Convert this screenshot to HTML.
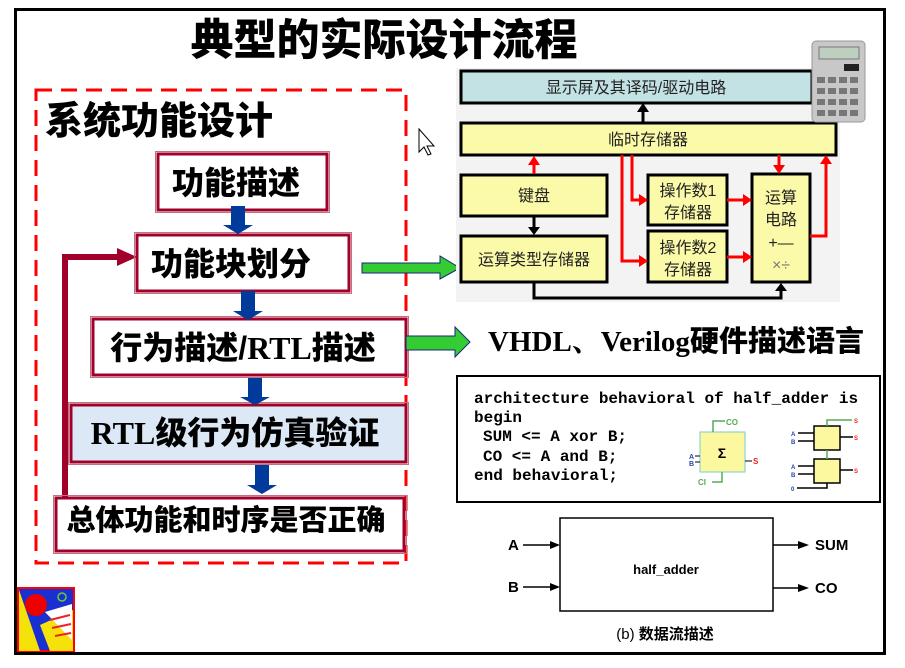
<!DOCTYPE html>
<html><head><meta charset="utf-8"><style>
html,body{margin:0;padding:0;background:#fff;}
svg{display:block}
</style></head><body>
<svg width="905" height="668" viewBox="0 0 905 668" xmlns="http://www.w3.org/2000/svg" font-family="Liberation Sans, Noto Sans CJK SC, sans-serif">
<rect x="15.5" y="9.5" width="869" height="644" fill="#fff" stroke="#000" stroke-width="3"/>
<text x="384" y="55" text-anchor="middle" font-size="43" font-weight="900" fill="#000">典型的实际设计流程</text>

<!-- dashed box -->
<rect x="36" y="90" width="370" height="473" fill="none" stroke="#f00" stroke-width="3" stroke-dasharray="16,9"/>
<text x="45" y="134" font-size="38" font-weight="900">系统功能设计</text>

<!-- feedback line -->
<polyline points="65,497 65,257 120,257" fill="none" stroke="#a0002a" stroke-width="6"/>
<polygon points="117,248 137,257 117,266" fill="#a0002a"/>

<g fill="#fff" stroke="#a0002a" stroke-width="3">
<rect x="158" y="154" width="169" height="56"/>
<rect x="137" y="235" width="212" height="56"/>
<rect x="93" y="319" width="313" height="56"/>
<rect x="71" y="405" width="335" height="57" fill="#dce8f5"/>
<rect x="56" y="498" width="348" height="53"/>
</g>
<g fill="none" stroke="#c47080" stroke-width="1">
<rect x="155.5" y="151.5" width="174" height="61"/>
<rect x="134.5" y="232.5" width="217" height="61"/>
<rect x="90.5" y="316.5" width="318" height="61"/>
<rect x="68.5" y="402.5" width="340" height="62"/>
<rect x="53.5" y="495.5" width="353" height="58"/>
</g>
<g font-size="32" font-weight="900" fill="#000">
<text x="236" y="194" text-anchor="middle">功能描述</text>
<text x="231" y="275" text-anchor="middle">功能块划分</text>
<text x="243" y="359" text-anchor="middle">行为描述/<tspan font-family="Liberation Serif, serif">RTL</tspan>描述</text>
<text x="235" y="444" text-anchor="middle"><tspan font-family="Liberation Serif, serif">RTL</tspan>级行为仿真验证</text>
<text x="226" y="530" text-anchor="middle" font-size="29">总体功能和时序是否正确</text>
</g>
<!-- blue arrows -->
<g fill="#003a9a">
<polygon points="231,206 245,206 245,225 253,225 238,234 223,225 231,225"/>
<polygon points="241,291 255,291 255,311 263,311 248,320 233,311 241,311"/>
<polygon points="248,378 262,378 262,397 270,397 255,405 240,397 248,397"/>
<polygon points="255,465 269,465 269,485 277,485 262,494 247,485 255,485"/>
</g>
<!-- green arrows -->
<g fill="#33cc33" stroke="#1a237e" stroke-width="1">
<polygon points="362,263 440,263 440,256 460,268 440,279 440,273 362,273"/>
<polygon points="406,336 455,336 455,327 470,342 455,357 455,350 406,350"/>
</g>

<!-- cursor -->
<path d="M419,129 L419,152 L424,147 L428,155 L431,154 L427,146 L434,146 Z" fill="#fff" stroke="#000" stroke-width="1"/>

<!-- right top diagram -->
<rect x="456" y="68" width="384" height="234" fill="#f3f3f3"/>
<g stroke="#000" stroke-width="3">
<rect x="461" y="71" width="351" height="32" fill="#c2e2e4"/>
<rect x="461" y="123" width="375" height="32" fill="#fbfaa8"/>
<rect x="461" y="175" width="146" height="41" fill="#fbfaa8"/>
<rect x="461" y="236" width="146" height="46" fill="#fbfaa8"/>
<rect x="648" y="175" width="79" height="50" fill="#fbfaa8"/>
<rect x="648" y="231" width="79" height="51" fill="#fbfaa8"/>
<rect x="752" y="174" width="58" height="108" fill="#fbfaa8"/>
</g>
<g font-size="16" fill="#222" text-anchor="middle">
<text x="636" y="93">显示屏及其译码/驱动电路</text>
<text x="648" y="145">临时存储器</text>
<text x="534" y="201">键盘</text>
<text x="534" y="265">运算类型存储器</text>
<text x="688" y="196">操作数1</text>
<text x="688" y="218">存储器</text>
<text x="688" y="253">操作数2</text>
<text x="688" y="275">存储器</text>
<text x="781" y="203">运算</text>
<text x="781" y="225">电路</text>
<text x="781" y="248">+—</text>
<text x="781" y="270" fill="#777">×÷</text>
</g>
<!-- black arrows -->
<g stroke="#000" stroke-width="3" fill="none">
<line x1="643" y1="122" x2="643" y2="110"/>
<line x1="534" y1="217" x2="534" y2="228"/>
<polyline points="534,282 534,298 781,298 781,290"/>
</g>
<g fill="#000">
<polygon points="637,112 643,103 649,112"/>
<polygon points="528,227 534,235 540,227"/>
<polygon points="775,291 781,283 787,291"/>
</g>
<!-- red arrows -->
<g stroke="#f00" stroke-width="3" fill="none">
<line x1="534" y1="174" x2="534" y2="163"/>
<polyline points="632,155 632,200 640,200"/>
<polyline points="622,155 622,261 640,261"/>
<line x1="727" y1="200" x2="744" y2="200"/>
<line x1="727" y1="257" x2="744" y2="257"/>
<line x1="779" y1="155" x2="779" y2="166"/>
<polyline points="810,236 826,236 826,162"/>
</g>
<g fill="#f00">
<polygon points="528,165 534,156 540,165"/>
<polygon points="639,194 648,200 639,206"/>
<polygon points="639,255 648,261 639,267"/>
<polygon points="743,194 752,200 743,206"/>
<polygon points="743,251 752,257 743,263"/>
<polygon points="773,165 779,174 785,165"/>
<polygon points="820,164 826,155 832,164"/>
</g>
<!-- calculator -->
<rect x="812" y="41" width="53" height="81" rx="4" fill="#c8c8c8" stroke="#999"/>
<rect x="819" y="47" width="40" height="12" fill="#bfcfbf" stroke="#777"/>
<rect x="844" y="64" width="15" height="7" fill="#222"/>
<g fill="#777">
<rect x="817" y="77" width="8" height="6"/><rect x="828" y="77" width="8" height="6"/><rect x="839" y="77" width="8" height="6"/><rect x="850" y="77" width="8" height="6"/>
<rect x="817" y="88" width="8" height="6"/><rect x="828" y="88" width="8" height="6"/><rect x="839" y="88" width="8" height="6"/><rect x="850" y="88" width="8" height="6"/>
<rect x="817" y="99" width="8" height="6"/><rect x="828" y="99" width="8" height="6"/><rect x="839" y="99" width="8" height="6"/><rect x="850" y="99" width="8" height="6"/>
<rect x="817" y="110" width="8" height="6"/><rect x="828" y="110" width="8" height="6"/><rect x="839" y="110" width="8" height="6"/><rect x="850" y="110" width="8" height="6"/>
</g>

<!-- VHDL text -->
<text x="488" y="351" font-size="29" font-weight="bold" font-family="Liberation Serif, Noto Serif CJK SC, serif">VHDL、Verilog<tspan font-family="Liberation Sans, Noto Sans CJK SC, sans-serif" font-weight="900">硬件描述语言</tspan></text>

<!-- code box -->
<rect x="457" y="376" width="423" height="126" fill="#fff" stroke="#000" stroke-width="2"/>
<g font-family="Liberation Mono, monospace" font-weight="bold" font-size="16" fill="#000">
<text x="474" y="403">architecture behavioral of half_adder is</text>
<text x="474" y="422">begin</text>
<text x="483" y="441">SUM &lt;= A xor B;</text>
<text x="483" y="461">CO &lt;= A and B;</text>
<text x="474" y="480">end behavioral;</text>
</g>
<!-- sigma adder -->
<rect x="700" y="432" width="45" height="40" fill="#fbf8a0" stroke="#7cc"/>
<text x="722" y="458" font-size="14" font-weight="bold" text-anchor="middle">Σ</text>
<polyline points="713,432 713,421 725,421" fill="none" stroke="#5a5" stroke-width="1.5"/>
<text x="726" y="425" font-size="8" fill="#5a5" font-weight="bold">CO</text>
<polyline points="722,472 722,482 712,482" fill="none" stroke="#5a5" stroke-width="1.5"/>
<text x="698" y="485" font-size="8" fill="#5a5" font-weight="bold">CI</text>
<line x1="695" y1="456" x2="700" y2="456" stroke="#000"/>
<line x1="695" y1="462" x2="700" y2="462" stroke="#000"/>
<text x="689" y="459" font-size="7" fill="#24a" font-weight="bold">A</text>
<text x="689" y="466" font-size="7" fill="#24a" font-weight="bold">B</text>
<line x1="745" y1="461" x2="752" y2="461" stroke="#000"/>
<text x="753" y="464" font-size="8" fill="#e22" font-weight="bold">S</text>
<!-- chained adders -->
<g stroke="#000" stroke-width="1.5">
<rect x="814" y="426" width="26" height="24" fill="#fbf8a0"/>
<rect x="814" y="459" width="26" height="24" fill="#fbf8a0"/>
<line x1="798" y1="433" x2="814" y2="433"/><line x1="798" y1="441" x2="814" y2="441"/>
<line x1="798" y1="466" x2="814" y2="466"/><line x1="798" y1="474" x2="814" y2="474"/>
<line x1="840" y1="437" x2="853" y2="437"/><line x1="840" y1="470" x2="853" y2="470"/>
<polyline points="827,483 827,488 797,488" fill="none"/>
</g>
<polyline points="827,426 827,420 852,420" fill="none" stroke="#5a5" stroke-width="1.5"/>
<line x1="827" y1="450" x2="827" y2="459" stroke="#5a5" stroke-width="1.5"/>
<g font-size="6" font-weight="bold">
<text x="791" y="436" fill="#24a">A</text><text x="791" y="444" fill="#24a">B</text>
<text x="791" y="469" fill="#24a">A</text><text x="791" y="477" fill="#24a">B</text>
<text x="791" y="491" fill="#24a">0</text>
<text x="854" y="423" fill="#e22">S</text><text x="854" y="440" fill="#e22">S</text><text x="854" y="473" fill="#e22">S</text>
</g>

<!-- half adder block -->
<rect x="560" y="518" width="213" height="93" fill="#fff" stroke="#000" stroke-width="1.5"/>
<text x="666" y="574" font-size="13" font-weight="bold" text-anchor="middle">half_adder</text>
<g stroke="#000" stroke-width="1.5">
<line x1="523" y1="545" x2="552" y2="545"/><line x1="523" y1="587" x2="552" y2="587"/>
<line x1="773" y1="545" x2="800" y2="545"/><line x1="773" y1="588" x2="800" y2="588"/>
</g>
<g fill="#000">
<polygon points="550,541 560,545 550,549"/><polygon points="550,583 560,587 550,591"/>
<polygon points="798,541 809,545 798,549"/><polygon points="798,584 809,588 798,592"/>
</g>
<g font-size="15" font-weight="bold">
<text x="508" y="550">A</text><text x="508" y="592">B</text>
<text x="815" y="550">SUM</text><text x="815" y="593">CO</text>
</g>
<text x="665" y="639" font-size="15" text-anchor="middle">(b) <tspan font-weight="bold">数据流描述</tspan></text>

<!-- party image -->
<rect x="18" y="588" width="56" height="63" fill="#1a2fd0" stroke="#f00" stroke-width="2"/>
<polygon points="19,590 40,651 19,651" fill="#f5e20a"/>
<polygon points="40,625 73,610 73,651 50,651" fill="#f5e20a"/>
<polygon points="45,612 72,604 72,640" fill="#fff"/>
<line x1="50" y1="620" x2="70" y2="615" stroke="#e22" stroke-width="2"/>
<line x1="52" y1="628" x2="71" y2="624" stroke="#e22" stroke-width="2"/>
<line x1="55" y1="636" x2="71" y2="633" stroke="#e22" stroke-width="2"/>
<circle cx="36" cy="605" r="11" fill="#e00"/>
<circle cx="62" cy="597" r="4" fill="none" stroke="#6c3" stroke-width="1.5"/>
</svg>
</body></html>
